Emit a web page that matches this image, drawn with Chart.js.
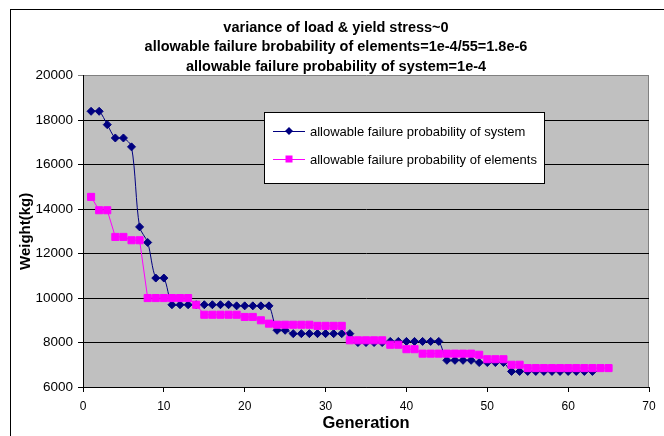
<!DOCTYPE html>
<html lang="en">
<head>
<meta charset="UTF-8">
<title>Weight vs Generation</title>
<script src="https://cdn.jsdelivr.net/npm/chart.js"></script>
<style>
  html, body { margin: 0; padding: 0; background: #fff; }
  #wrap { width: 664px; height: 436px; }
</style>
</head>
<body>
<div id="wrap"><canvas id="weightChart" width="664" height="436"></canvas></div>
<script>
// generation numbers and best weight found (kg) for each run
const genSystem = [1, 2, 3, 4, 5, 6, 7, 8, 9, 10, 11, 12, 13, 14, 15, 16, 17, 18, 19, 20,
  21, 22, 23, 24, 25, 26, 27, 28, 29, 30, 31, 32, 33, 34, 35, 36, 37, 38, 39, 40,
  41, 42, 43, 44, 45, 46, 47, 48, 49, 50, 51, 52, 53, 54, 55, 56, 57, 58, 59, 60,
  61, 62, 63];
const weightSystem = [18400, 18400, 17800, 17200, 17200, 16800, 13200, 12500, 10900, 10900,
  9700, 9700, 9700, 9700, 9700, 9700, 9700, 9700, 9650, 9650,
  9650, 9650, 9650, 8550, 8550, 8400, 8400, 8400, 8400, 8400,
  8400, 8400, 8400, 8000, 8000, 8000, 8000, 8050, 8050, 8050,
  8050, 8050, 8050, 8050, 7200, 7200, 7200, 7200, 7100, 7100,
  7100, 7100, 6700, 6700, 6700, 6700, 6700, 6700, 6700, 6700,
  6700, 6700, 6700];

const genElements = [1, 2, 3, 4, 5, 6, 7, 8, 9, 10, 11, 12, 13, 14, 15, 16, 17, 18, 19, 20,
  21, 22, 23, 24, 25, 26, 27, 28, 29, 30, 31, 32, 33, 34, 35, 36, 37, 38, 39, 40,
  41, 42, 43, 44, 45, 46, 47, 48, 49, 50, 51, 52, 53, 54, 55, 56, 57, 58, 59, 60,
  61, 62, 63, 64, 65];
const weightElements = [14550, 13950, 13950, 12750, 12750, 12600, 12600, 10000, 10000, 10000,
  10000, 10000, 10000, 9700, 9250, 9250, 9250, 9250, 9250, 9150,
  9150, 9000, 8850, 8800, 8800, 8800, 8800, 8800, 8750, 8750,
  8750, 8750, 8100, 8100, 8100, 8100, 8100, 7900, 7900, 7700,
  7700, 7500, 7500, 7500, 7500, 7500, 7500, 7500, 7450, 7250,
  7250, 7250, 7000, 7000, 6850, 6850, 6850, 6850, 6850, 6850,
  6850, 6850, 6850, 6850, 6850];

const seriesNames = [
  'allowable failure probability of system',
  'allowable failure probability of elements'
];
const titleLines = [
  'variance of load & yield stress~0',
  'allowable failure brobability of elements=1e-4/55=1.8e-6',
  'allowable failure probability of system=1e-4'
];

const FONT = "'Liberation Sans', Arial, sans-serif";

function toPoints(xs, ys) {
  return xs.map((x, i) => ({ x: x, y: ys[i] }));
}

// chart frame, grey plot area and the boxed key inside the plot
const framePlugin = {
  id: 'frame',
  beforeDraw(chart) {
    const ctx = chart.ctx, a = chart.chartArea;
    ctx.save();
    ctx.fillStyle = '#fff';
    ctx.fillRect(0, 0, chart.width, chart.height);
    ctx.strokeStyle = '#000';
    ctx.lineWidth = 1;
    ctx.strokeRect(10.5, 9.5, 800, 600);
    ctx.fillStyle = '#c0c0c0';
    ctx.fillRect(a.left, a.top, a.right - a.left, a.bottom - a.top);
    ctx.strokeStyle = '#808080';
    ctx.beginPath();
    ctx.moveTo(a.right - 0.5, a.top);
    ctx.lineTo(a.right - 0.5, a.bottom);
    ctx.stroke();
    ctx.restore();
  },
  afterDraw(chart) {
    const ctx = chart.ctx;
    const box = { x: 264, y: 112, w: 280, h: 71 };
    ctx.save();
    ctx.fillStyle = '#fff';
    ctx.fillRect(box.x, box.y, box.w, box.h);
    ctx.strokeStyle = '#000';
    ctx.lineWidth = 1;
    ctx.strokeRect(box.x + 0.5, box.y + 0.5, box.w, box.h);
    ctx.font = '13px ' + FONT;
    ctx.textBaseline = 'middle';
    chart.data.datasets.forEach((ds, i) => {
      const y = 131 + i * 28;
      ctx.strokeStyle = ds.borderColor;
      ctx.fillStyle = ds.borderColor;
      ctx.beginPath();
      ctx.moveTo(273, y + 0.5);
      ctx.lineTo(305, y + 0.5);
      ctx.stroke();
      ctx.beginPath();
      if (ds.pointStyle === 'rectRot') {
        ctx.moveTo(289, y - 4);
        ctx.lineTo(293, y);
        ctx.lineTo(289, y + 4);
        ctx.lineTo(285, y);
        ctx.closePath();
      } else {
        ctx.rect(285.5, y - 3.5, 7, 7);
      }
      ctx.fill();
      ctx.fillStyle = '#000';
      ctx.fillText(ds.label, 310, y + 1);
    });
    ctx.restore();
  }
};

const ctx = document.getElementById('weightChart').getContext('2d');
new Chart(ctx, {
  type: 'line',
  data: {
    datasets: [
      {
        label: seriesNames[0],
        data: toPoints(genSystem, weightSystem),
        borderColor: '#000080',
        backgroundColor: '#000080',
        borderWidth: 1,
        pointStyle: 'rectRot',
        pointRadius: 4,
        pointBorderWidth: 1,
        tension: 0.3,
        order: 2
      },
      {
        label: seriesNames[1],
        data: toPoints(genElements, weightElements),
        borderColor: '#ff00ff',
        backgroundColor: '#ff00ff',
        borderWidth: 1,
        pointStyle: 'rect',
        pointRadius: 5,
        pointBorderWidth: 1,
        tension: 0,
        order: 1
      }
    ]
  },
  options: {
    responsive: false,
    animation: false,
    // left padding keeps the title centred on the framed chart
    layout: { padding: { top: 0, right: 15, bottom: 0, left: 23 } },
    plugins: {
      legend: { display: false },
      tooltip: { enabled: false },
      title: {
        display: true,
        text: titleLines,
        color: '#000',
        font: { family: FONT, size: 14.5, weight: 'bold', lineHeight: 1.35 },
        padding: { top: 18, bottom: -1 }
      }
    },
    scales: {
      x: {
        type: 'linear',
        min: 0,
        max: 70,
        ticks: {
          stepSize: 10, color: '#000', padding: 7,
          font: { family: FONT, size: 12 },
          callback: v => String(v)
        },
        grid: { drawOnChartArea: false, drawTicks: true, tickLength: 5, color: '#000' },
        border: { color: '#000', width: 1 },
        title: {
          display: true,
          text: 'Generation',
          color: '#000',
          font: { family: FONT, size: 16.5, weight: 'bold', lineHeight: 1.2 },
          padding: { top: 0, bottom: 3 }
        },
        afterFit(s) { s.height = 49; }
      },
      y: {
        min: 6000,
        max: 20000,
        ticks: {
          stepSize: 2000, color: '#000', padding: 5,
          font: { family: FONT, size: 13.5 },
          callback: v => String(v)
        },
        grid: {
          tickLength: 5,
          color: c => (c.tick && c.tick.value === 20000 ? '#808080' : '#000')
        },
        border: { color: '#000', width: 1 },
        title: {
          display: true,
          text: 'Weight(kg)',
          color: '#000',
          font: { family: FONT, size: 15, weight: 'bold', lineHeight: 1.2 },
          padding: { top: -6, bottom: 0 }
        },
        afterFit(s) { s.width = 60; }
      }
    }
  },
  plugins: [framePlugin]
});
</script>
</body>
</html>
